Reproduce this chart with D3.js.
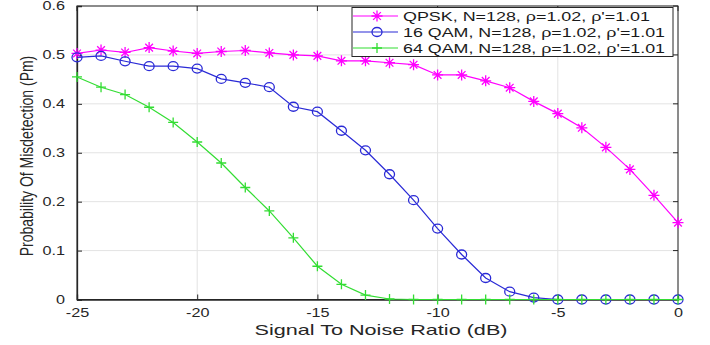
<!DOCTYPE html>
<html><head><meta charset="utf-8">
<script src="https://cdn.jsdelivr.net/npm/d3@7"></script>
<style>body{margin:0;background:#fff;} svg{display:block;}</style>
</head><body>
<svg id="c" width="710" height="345"></svg>
<script>
const snr = [-25,-24,-23,-22,-21,-20,-19,-18,-17,-16,-15,-14,-13,-12,-11,-10,-9,-8,-7,-6,-5,-4,-3,-2,-1,0];
const qpsk = [0.503,0.510,0.505,0.515,0.508,0.503,0.507,0.509,0.504,0.500,0.498,0.488,0.488,0.484,0.480,0.459,0.459,0.447,0.433,0.405,0.380,0.351,0.311,0.266,0.213,0.157];
const qam16 = [0.495,0.498,0.487,0.477,0.477,0.472,0.451,0.443,0.434,0.394,0.384,0.345,0.305,0.256,0.203,0.145,0.092,0.044,0.016,0.004,0,0,0,0,0,0];
const qam64 = [0.455,0.434,0.419,0.393,0.362,0.322,0.279,0.229,0.181,0.126,0.068,0.031,0.009,0.001,0,0,0,0,0,0,0,0,0,0,0,0];
const seriesNames = ["QPSK, N=128, ρ=1.02, ρ'=1.01","16 QAM, N=128, ρ=1.02, ρ'=1.01","64 QAM, N=128, ρ=1.02, ρ'=1.01"];
const xTicks = [-25,-20,-15,-10,-5,0];
const yTicks = [0,0.1,0.2,0.3,0.4,0.5,0.6];
const xTitle = "Signal To Noise Ratio (dB)";
const yTitle = "Probability Of Misdetection (Pm)";

const svg = d3.select("#c");
const L=77,R=678,T=6,B=299.5;
const x = d3.scaleLinear().domain([-25,0]).range([L,R]);
const y = d3.scaleLinear().domain([0,0.6]).range([B,T]);
const font = "'Liberation Sans', Arial, sans-serif";
const SX = 1.35; // horizontal stretch of text seen in the reference

function stretch(sel, f){
  sel.each(function(){
    const w = this.getComputedTextLength();
    d3.select(this).attr("textLength", w*f).attr("lengthAdjust","spacingAndGlyphs");
  });
}

// grid
svg.append("g").selectAll("line").data(xTicks).join("line")
  .attr("x1",d=>x(d)).attr("x2",d=>x(d)).attr("y1",T).attr("y2",B)
  .attr("stroke","#e3e3e3").attr("stroke-width",1);
svg.append("g").selectAll("line").data(yTicks).join("line")
  .attr("x1",L).attr("x2",R).attr("y1",d=>y(d)).attr("y2",d=>y(d))
  .attr("stroke","#e3e3e3").attr("stroke-width",1);

// box
svg.append("rect").attr("x",L).attr("y",T).attr("width",R-L).attr("height",B-T)
  .attr("fill","none").attr("stroke","#262626").attr("stroke-width",1);

// axes
const xa = svg.append("g").attr("transform",`translate(0,${B})`)
  .call(d3.axisBottom(x).tickValues(xTicks).tickSize(-5).tickPadding(9).tickFormat(d=>String(d)));
const ya = svg.append("g").attr("transform",`translate(${L},0)`)
  .call(d3.axisLeft(y).tickValues(yTicks).tickSize(-5).tickPadding(12).tickFormat(d=>d===0?"0":d3.format(".1f")(d)));
[xa,ya].forEach(a=>{
  a.select(".domain").attr("stroke","#262626").attr("stroke-width",1.3);
  a.selectAll(".tick line").attr("stroke","#262626");
  a.selectAll("text").attr("font-family",font).attr("font-size",12).attr("fill","#262626");
  stretch(a.selectAll("text"), SX);
});
// top/right ticks
svg.append("g").selectAll("line").data(xTicks).join("line")
  .attr("x1",d=>x(d)).attr("x2",d=>x(d)).attr("y1",T).attr("y2",T+5).attr("stroke","#262626");
svg.append("g").selectAll("line").data(yTicks).join("line")
  .attr("x1",R).attr("x2",R-5).attr("y1",d=>y(d)).attr("y2",d=>y(d)).attr("stroke","#262626");

// titles
const xt = svg.append("text").attr("x",381).attr("y",335).attr("text-anchor","middle")
  .attr("font-family",font).attr("font-size",14.5).attr("fill","#262626").text(xTitle);
xt.attr("textLength",253).attr("lengthAdjust","spacingAndGlyphs");
svg.append("text").attr("transform",`translate(33,${156}) rotate(-90) scale(1,1.3)`).attr("text-anchor","middle")
  .attr("font-family",font).attr("font-size",14)
  .attr("fill","#262626").text(yTitle);

const colors = ["#ff00ff","#2a2ad6","#33dd33"];
const data = [qpsk,qam16,qam64];
const line = d3.line().x((d,i)=>x(snr[i])).y(d=>y(d));

function marker(g, type, cx, cy, col){
  if(type===0){
    const s=5.5;
    g.append("path").attr("d",`M${cx-s},${cy}H${cx+s}M${cx},${cy-s}V${cy+s}M${cx-s*0.7},${cy-s*0.7}L${cx+s*0.7},${cy+s*0.7}M${cx-s*0.7},${cy+s*0.7}L${cx+s*0.7},${cy-s*0.7}`)
      .attr("stroke",col).attr("stroke-width",1.3).attr("fill","none");
  } else if(type===1){
    g.append("ellipse").attr("cx",cx).attr("cy",cy).attr("rx",5).attr("ry",4.5)
      .attr("stroke",col).attr("stroke-width",1.3).attr("fill","none");
  } else {
    const s=5;
    g.append("path").attr("d",`M${cx-s},${cy}H${cx+s}M${cx},${cy-s}V${cy+s}`)
      .attr("stroke",col).attr("stroke-width",1.3).attr("fill","none");
  }
}

data.forEach((vals,k)=>{
  const g = svg.append("g");
  g.append("path").datum(vals).attr("d",line).attr("fill","none").attr("stroke",colors[k]).attr("stroke-width",1.2);
  vals.forEach((v,i)=>marker(g,k,x(snr[i]),y(v),colors[k]));
});

// legend
const lg = svg.append("g");
lg.append("rect").attr("x",352).attr("y",7.5).attr("width",321).attr("height",49)
  .attr("fill","#fff").attr("stroke","#262626").attr("stroke-width",1);
const legW = [247,262,262];
seriesNames.forEach((n,k)=>{
  const yy = 16 + k*16;
  lg.append("line").attr("x1",353).attr("x2",398).attr("y1",yy).attr("y2",yy).attr("stroke",colors[k]).attr("stroke-width",1.2);
  marker(lg,k,377,yy,colors[k]);
  lg.append("text").attr("x",403).attr("y",yy+5).attr("font-family",font).attr("font-size",13.5)
    .attr("fill","#1a1a1a").attr("textLength",legW[k]).attr("lengthAdjust","spacingAndGlyphs").text(n);
});
</script>
</body></html>
